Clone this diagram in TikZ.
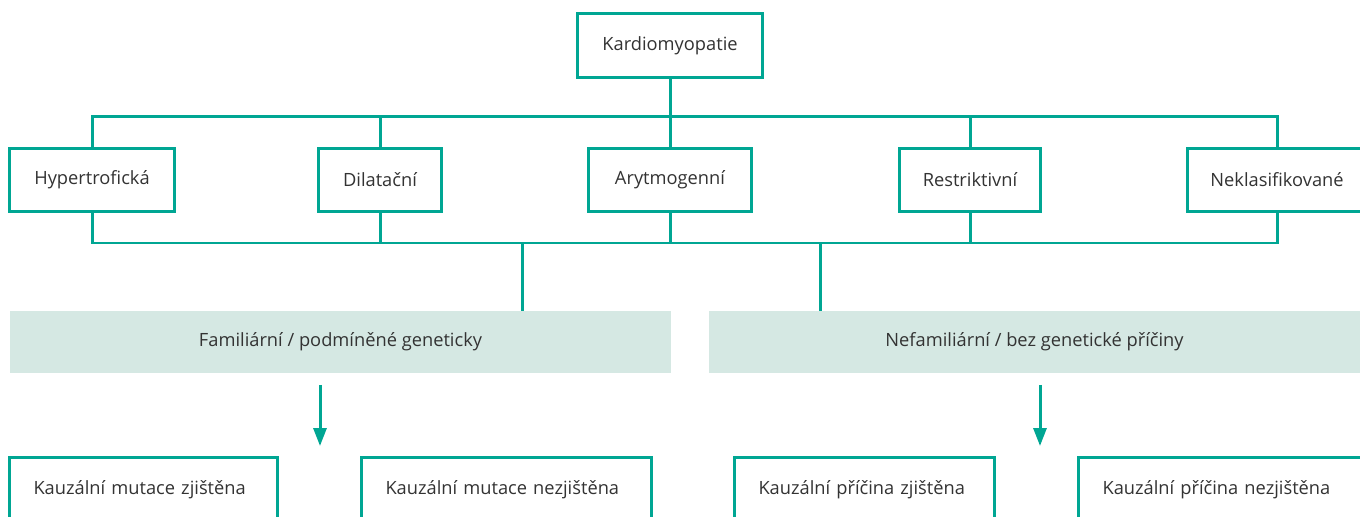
\documentclass[tikz,border=0pt]{standalone}
\usepackage{fontspec}
\setmainfont{Open Sans}
\usetikzlibrary{arrows.meta}
\definecolor{kgreen}{RGB}{0,166,147}
\definecolor{kband}{RGB}{213,232,227}
\definecolor{ktext}{RGB}{51,51,51}
\begin{document}
\begin{tikzpicture}
	    [x=0.02cm, y=-0.02cm,
	     box/.style={rectangle, draw=kgreen, line width=0.06cm, fill=white, text=ktext, minimum height=1.28cm, inner sep=0pt, outer sep=0pt, font=\fontsize{10.4}{12}\selectfont},
	     low/.style={box, minimum height=1.32cm, inner xsep=0.49cm, align=left},
	     band/.style={rectangle, fill=kband, text=ktext, minimum height=1.24cm, inner sep=0pt, outer sep=0pt, font=\fontsize{10.4}{12}\selectfont},
	     link/.style={draw=kgreen, line width=0.06cm},
	     flow/.style={link, -{Triangle[width=0.26cm, length=0.36cm]}, shorten <=0.24cm, shorten >=0.22cm}]
	    \clip (0,0) rectangle (1360,517);
	    % \draw[step=1cm,gray,very thin] (0,0) grid (1360,517);
	    \coordinate (busT) at (670,117);
	    \coordinate (busB) at (670,243);
	    \coordinate (jL) at (522,243);
	    \coordinate (jR) at (820,243);
	    \coordinate (aL) at (320,400);
	    \coordinate (aR) at (1040,400);
	    \node[band]  (fam)  at (340.5,342)  [minimum width=13.22cm] {Familiární / podmíněné geneticky};
	    \node[band]  (nefam) at (1034.5,342) [minimum width=13.02cm] {Nefamiliární / bez genetické příčiny};
	    \node[box]   (kardio) at (670,45.5)  [minimum width=3.72cm, minimum height=1.30cm] {Kardiomyopatie};
	    \node[box]   (hyp)  at (92,180)    [minimum width=3.32cm] {Hypertrofická};
	    \node[box]   (dil)  at (380,180)   [minimum width=2.48cm] {Dilatační};
	    \node[box]   (ary)  at (670,180)   [minimum width=3.28cm] {Arytmogenní};
	    \node[box]   (res)  at (970,180)   [minimum width=2.84cm] {Restriktivní};
	    \node[box]   (nek)  at (1277,180)  [minimum width=3.60cm] {Neklasifikované};
	    \node[low]   (mut1) at (143.5,490) [text width=4.40cm] {Kauzální mutace zjištěna};
	    \node[low]   (mut2) at (506.5,490) [text width=4.84cm] {Kauzální mutace nezjištěna};
	    \node[low]   (pri1) at (864.5,490) [text width=4.24cm] {Kauzální příčina zjištěna};
	    \node[low]   (pri2) at (1220,490)  [text width=4.70cm] {Kauzální příčina nezjištěna};
	    \draw[link] (kardio) -- (busT);
	    \draw[link] (hyp.north) |- (nek.north |- busT) -- (nek.north);
	    \draw[link] (dil.north) -- (dil.north |- busT);
	    \draw[link] (ary.north) -- (busT);
	    \draw[link] (res.north) -- (res.north |- busT);
	    \draw[link] (hyp.south) |- (nek.south |- busB) -- (nek.south);
	    \draw[link] (dil.south) -- (dil.south |- busB);
	    \draw[link] (ary.south) -- (busB);
	    \draw[link] (res.south) -- (res.south |- busB);
	    \draw[link] (jL) -- (jL |- fam.north);
	    \draw[link] (jR) -- (jR |- nefam.north);
	    \draw[flow] (fam.south -| aL) -- (aL |- mut1.north);
	    \draw[flow] (nefam.south -| aR) -- (aR |- pri1.north);
	\end{tikzpicture}
\end{document}
